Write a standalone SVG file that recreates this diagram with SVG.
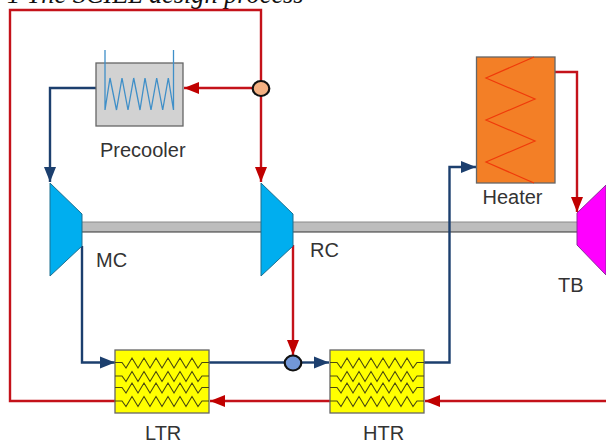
<svg xmlns="http://www.w3.org/2000/svg" width="606" height="444" viewBox="0 0 606 444">
<style>
.red{fill:none;stroke:#c4121a;stroke-width:2.4}
.blue{fill:none;stroke:#1c3f6e;stroke-width:2.4}
.lab{font-family:"Liberation Sans",Arial,sans-serif;font-size:20px;fill:#333}
.box{stroke:#666;stroke-width:1.3}
.hx{fill:#ffff00;stroke:#666;stroke-width:1.3}
.zz{fill:none;stroke:#4a4a10;stroke-width:1.1}
.tur{fill:#00aeef;stroke:#1d6f8f;stroke-width:1}
</style>
<defs>
<marker id="ar" markerUnits="userSpaceOnUse" markerWidth="16" markerHeight="14" refX="15" refY="7" orient="auto"><path d="M0 1L15 7L0 13z" fill="#c00000"/></marker>
<marker id="ab" markerUnits="userSpaceOnUse" markerWidth="16" markerHeight="14" refX="15" refY="7" orient="auto"><path d="M0 1L15 7L0 13z" fill="#1c3f6e"/></marker>
<path id="zig" class="zz" d="M0 0H7L11 5.500L17 -4.500L23 5.500L29 -4.500L35 5.500L41 -4.500L47 5.500L53 -4.500L59 5.500L65 -4.500L71 5.500L77 -4.500L83 5.500L87 0H94"/>
</defs>
<text x="7" y="2.500" font-family="'Liberation Serif',serif" font-style="italic" font-size="26.300" fill="#111">1 The SCIEL design process</text>
<g id="shaft"><rect x="82" y="222" width="495" height="10" fill="#bdbdbd"/><path d="M82 222H577" stroke="#8a8a8a" stroke-width="1"/><path d="M82 232H577" stroke="#333" stroke-width="1.200"/></g>
<g id="connectors">
<path class="red" d="M261 88V10H10V401H115"/>
<path class="red" marker-end="url(#ar)" d="M253 88H184"/>
<path class="red" marker-end="url(#ar)" d="M261 96V182"/>
<path class="blue" marker-end="url(#ab)" d="M96 88H50V182"/>
<path class="blue" marker-end="url(#ab)" d="M82 246V362.500H115"/>
<path class="blue" d="M209 362.500H285"/>
<path class="blue" marker-end="url(#ab)" d="M301 362.500H329"/>
<path class="red" marker-end="url(#ar)" d="M293 245V355"/>
<path class="blue" marker-end="url(#ab)" d="M424 362.500H449.500V167H476"/>
<path class="red" marker-end="url(#ar)" d="M555 72H577V212"/>
<path class="red" marker-end="url(#ar)" d="M606 401H425"/>
<path class="red" marker-end="url(#ar)" d="M330 401H210"/>
</g>
<g id="precooler">
<rect class="box" x="96" y="63" width="87" height="63" fill="#d2d2d2"/>
<path d="M105 50V110L110 78L116.500 110L122 78L128 110L133.700 78L140 110L145 78L151 110L156.700 78L162.700 110L168.300 78L173.500 110V50" fill="none" stroke="#3f8fc8" stroke-width="1.300"/>
<text class="lab" x="100" y="157">Precooler</text>
</g>
<g id="heater">
<rect class="box" x="476.500" y="57" width="78.500" height="126" fill="#f37f26"/>
<path d="M534 57L486 78L535 99L486 120L535 141L486 162L534 183" fill="none" stroke="#f03a0a" stroke-width="1.200"/>
<text class="lab" x="482.500" y="204">Heater</text>
</g>
<g id="mc"><path class="tur" d="M50 183L82 214V246L50 276z"/><text class="lab" x="96" y="267">MC</text></g>
<g id="rc"><path class="tur" d="M261 183L293 214V246L261 276z"/><text class="lab" x="310" y="257">RC</text></g>
<g id="tb"><path d="M606 185L577 213V245L606 275z" fill="#ff00ff" stroke="#8a2a9a" stroke-width="1"/><text class="lab" x="558" y="292">TB</text></g>
<g id="ltr"><rect class="hx" x="115" y="350" width="94" height="63"/><use href="#zig" x="115" y="362.500"/><use href="#zig" x="115" y="376"/><use href="#zig" x="115" y="387.500"/><use href="#zig" x="115" y="401"/><text class="lab" x="145" y="440">LTR</text></g>
<g id="htr"><rect class="hx" x="330" y="350" width="94" height="63"/><use href="#zig" x="330" y="362.500"/><use href="#zig" x="330" y="376"/><use href="#zig" x="330" y="387.500"/><use href="#zig" x="330" y="401"/><text class="lab" x="363" y="440">HTR</text></g>
<g id="split"><ellipse cx="261" cy="88.500" rx="8.300" ry="7.500" fill="#f4b183" stroke="#111" stroke-width="2.200"/></g>
<g id="merge"><ellipse cx="293" cy="363" rx="8.300" ry="7.500" fill="#7297d8" stroke="#111" stroke-width="2.200"/></g>
</svg>
